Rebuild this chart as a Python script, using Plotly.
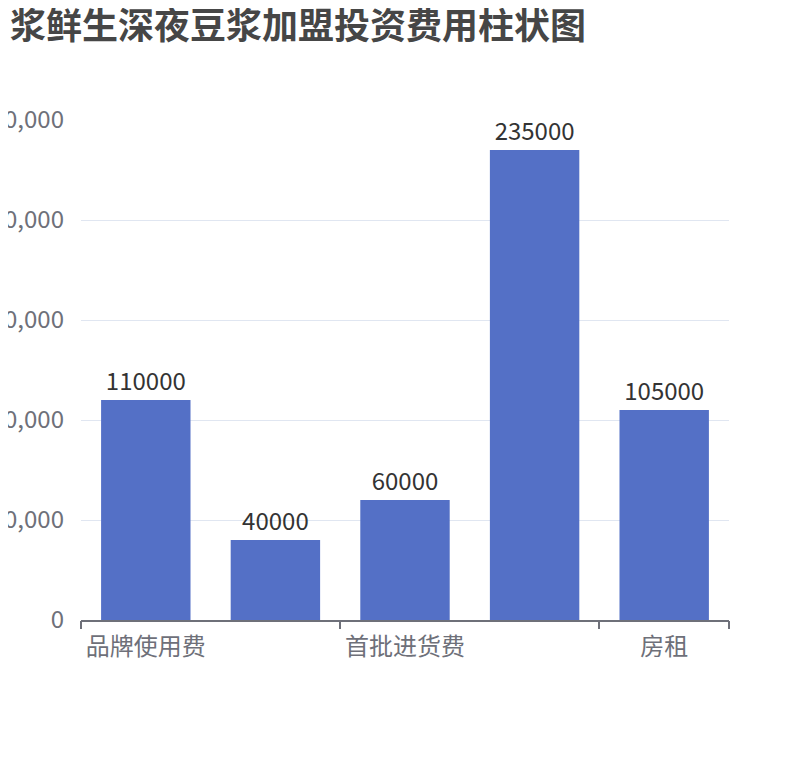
import plotly.graph_objects as go

# data
categories = ['品牌使用费', '设备装修费', '首批进货费', '店面转让费', '房租']
costs = [110000, 40000, 60000, 235000, 105000]
shown_labels = ['品牌使用费', '首批进货费', '房租']
y_ticks = [0, 50000, 100000, 150000, 200000, 250000]

font_family = 'Noto Sans CJK SC, Microsoft YaHei, sans-serif'
axis_grey = '#6E7079'

fig = go.Figure()

trace1 = go.Bar(x=categories, y=costs, text=[str(v) for v in costs],
                textposition='outside', cliponaxis=False,
                textfont=dict(size=24, color='#333333', family=font_family),
                marker=dict(color='#5470C6', line=dict(width=0)))
fig.add_trace(trace1)

# invisible trace on a second axis so the boundary ticks get drawn
fig.add_trace(go.Scatter(x=[-0.5, len(categories) - 0.5], y=[0, 0], xaxis='x2',
                         mode='markers', marker=dict(opacity=0), hoverinfo='skip',
                         showlegend=False))

fig.update_layout(
    width=810, height=760,
    template='none',
    paper_bgcolor='white', plot_bgcolor='white',
    margin=dict(l=73, r=89, t=112, b=148),
    bargap=0.31,
    showlegend=False,
    font=dict(family=font_family),
    title=dict(text='<b>浆鲜生深夜豆浆加盟投资费用柱状图</b>',
               x=2 / 810, xanchor='left', xref='container',
               y=1 - 18 / 760, yanchor='middle', yref='container',
               font=dict(size=36, color='#464646', family=font_family)),
    xaxis=dict(type='category', tickvals=shown_labels, ticks='', showgrid=False,
               showline=True, linecolor=axis_grey, linewidth=1.5,
               tickfont=dict(size=24, color=axis_grey), automargin=False,
               ticklabelstandoff=4, fixedrange=True),
    xaxis2=dict(overlaying='x', range=[-0.5, len(categories) - 0.5],
                tickvals=[-0.5, 1.5, 3.5, 4.5], showticklabels=False,
                ticks='outside', ticklen=8, tickwidth=1.5, tickcolor=axis_grey,
                showgrid=False, showline=False, zeroline=False, automargin=False),
    yaxis=dict(range=[0, 250000], tickvals=y_ticks, tickformat=',',
               showgrid=True, gridcolor='#E0E6F1', gridwidth=1,
               zeroline=False, showline=False, ticks='',
               tickfont=dict(size=24, color=axis_grey), automargin=False,
               ticklabelstandoff=16),
)

fig.write_html('out.html')
